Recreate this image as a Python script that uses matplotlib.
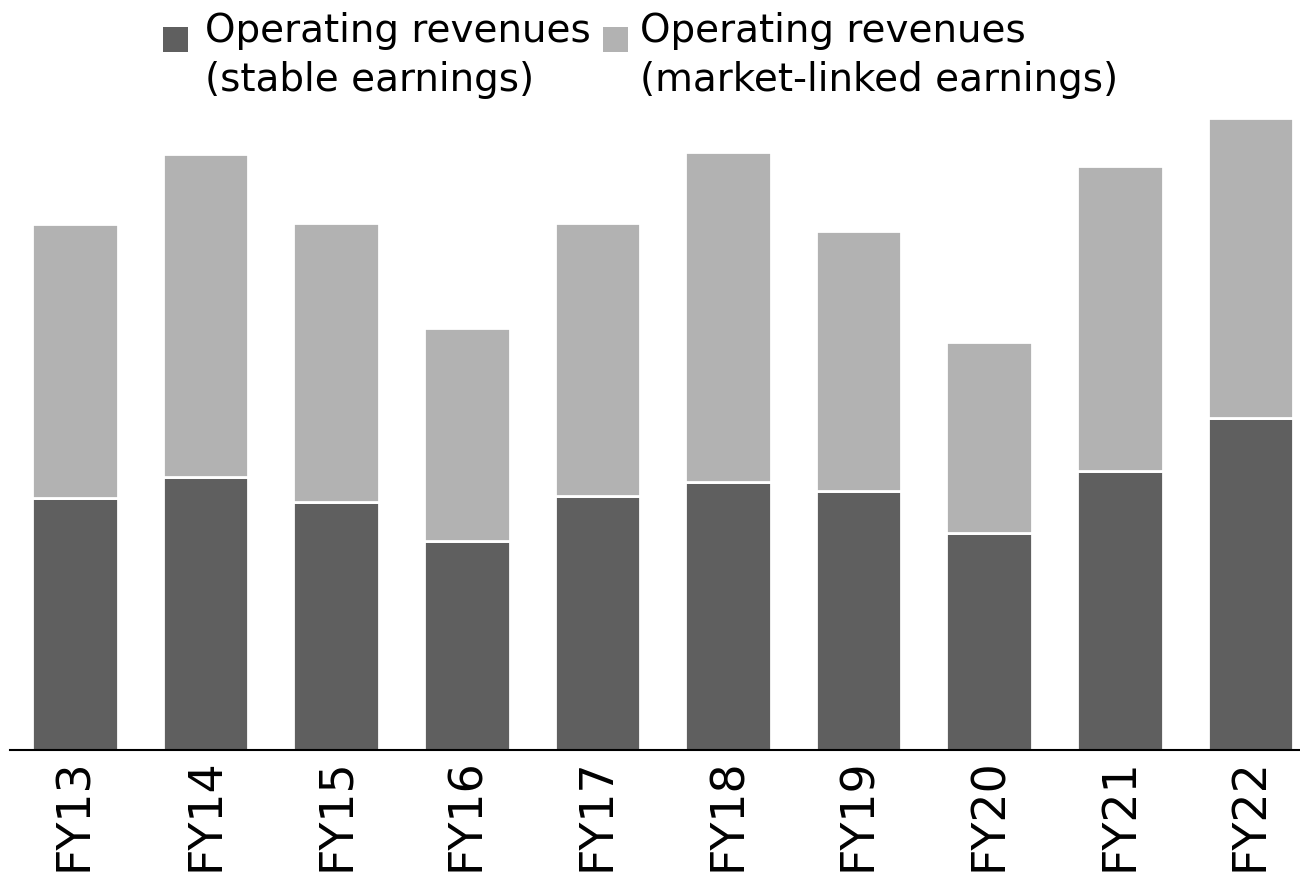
import matplotlib
import matplotlib.pyplot as plt
from matplotlib.patches import Rectangle

matplotlib.use("Agg")

# operating revenues by fiscal year (relative scale)
years = ["FY13", "FY14", "FY15", "FY16", "FY17", "FY18", "FY19", "FY20", "FY21", "FY22"]
stable = [252, 273, 248, 209, 254, 268, 259, 217, 279, 332]
market_linked = [274, 323, 279, 213, 273, 330, 260, 191, 305, 300]

dark = "#5f5f5f"
light = "#b2b2b2"

W, H = 1300, 872
fig = plt.figure(figsize=(13, 8.72), dpi=100)
ax = fig.add_axes([9.7 / W, 122 / H, 1306 / W, 650 / H])

x = range(len(years))
ax.bar(x, stable, width=0.655, color=dark, edgecolor="white", linewidth=2)
ax.bar(x, market_linked, bottom=stable, width=0.655, color=light, edgecolor="white", linewidth=2)

ax.set_xlim(-0.5, len(years) - 0.5)
ax.set_ylim(0, 650)
ax.set_xticks(list(x))
ax.set_xticklabels(years, rotation=90, fontsize=33, family="DejaVu Sans")
ax.tick_params(axis="x", length=0, pad=6)
ax.set_yticks([])
for side in ("top", "left", "right"):
    ax.spines[side].set_visible(False)
ax.spines["bottom"].set_linewidth(1.5)
ax.spines["bottom"].set_color("black")
ax.spines["bottom"].set_clip_on(False)

# legend drawn by hand: squares next to two-line labels
legend_items = [
    (163, dark, "Operating revenues\n(stable earnings)", 205),
    (603, light, "Operating revenues\n(market-linked earnings)", 640),
]
for sq_x, color, label, text_x in legend_items:
    fig.add_artist(Rectangle((sq_x / W, 1 - 52 / H), 25 / W, 25 / H,
                             transform=fig.transFigure, color=color, lw=0))
    fig.text(text_x / W, 1 - 12 / H, label, fontsize=28, family="DejaVu Sans",
             va="top", ha="left", linespacing=1.36)

fig.savefig("out.png", dpi=100)
